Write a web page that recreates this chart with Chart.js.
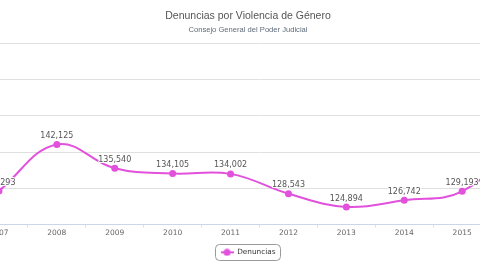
<!DOCTYPE html>
<html>
<head>
<meta charset="utf-8">
<script src="https://cdn.jsdelivr.net/npm/chart.js@4/dist/chart.umd.min.js"></script>
<style>
html, body { margin: 0; padding: 0; background: #fff; overflow: hidden; width: 480px; height: 270px; }
#wrap { position: absolute; left: -100px; top: 0; width: 696px; height: 270px; }
</style>
</head>
<body>
<div id="wrap"><canvas id="chart"></canvas></div>
<script>
// Datos (CGPJ)
const years = ['2007', '2008', '2009', '2010', '2011', '2012', '2013', '2014', '2015', '2016'];
const denuncias = [129293, 142125, 135540, 134105, 134002, 128543, 124894, 126742, 129193, 142893];
const yMin = 120000;
const yMax = 170000;
const yStep = 10000;

const lineColor = '#e251dc';

// simbolo de la leyenda: linea con punto
const legendIcon = document.createElement('canvas');
legendIcon.width = 13;
legendIcon.height = 8;
(function () {
  const c = legendIcon.getContext('2d');
  c.strokeStyle = lineColor;
  c.lineWidth = 2;
  c.beginPath();
  c.moveTo(0, 4);
  c.lineTo(13, 4);
  c.stroke();
  c.fillStyle = lineColor;
  c.beginPath();
  c.arc(6.5, 4, 3.5, 0, Math.PI * 2);
  c.fill();
})();

// etiquetas encima de cada punto
const pointLabels = {
  id: 'pointLabels',
  afterDatasetsDraw(chart) {
    const ctx = chart.ctx;
    const meta = chart.getDatasetMeta(0);
    ctx.save();
    ctx.font = '8px "DejaVu Sans"';
    ctx.textAlign = 'center';
    ctx.textBaseline = 'middle';
    ctx.lineJoin = 'round';
    meta.data.forEach((pt, i) => {
      const txt = denuncias[i].toLocaleString('en-US');
      ctx.lineWidth = 2;
      ctx.strokeStyle = '#fff';
      ctx.strokeText(txt, pt.x, pt.y - 8.5);
      ctx.fillStyle = '#555';
      ctx.fillText(txt, pt.x, pt.y - 8.5);
    });
    ctx.restore();
  }
};

// marco de la leyenda
const legendFrame = {
  id: 'legendFrame',
  afterDraw(chart) {
    const hit = chart.legend.legendHitBoxes[0];
    if (!hit) return;
    const ctx = chart.ctx;
    ctx.save();
    ctx.strokeStyle = '#999';
    ctx.lineWidth = 1;
    ctx.beginPath();
    ctx.roundRect(Math.round(hit.left - 6) + 0.5, Math.round(hit.top - 5) + 0.5, Math.round(hit.width + 10), Math.round(hit.height + 9), 4);
    ctx.stroke();
    ctx.restore();
  }
};

new Chart(document.getElementById('chart'), {
  type: 'line',
  data: {
    labels: years,
    datasets: [{
      label: 'Denuncias',
      data: denuncias,
      borderColor: lineColor,
      backgroundColor: lineColor,
      borderWidth: 2,
      tension: 0.4,
      pointRadius: 3.5,
      pointBorderWidth: 0,
      pointBackgroundColor: lineColor,
      pointStyle: 'circle'
    }]
  },
  options: {
    responsive: true,
    maintainAspectRatio: false,
    animation: false,
    layout: { padding: { top: 0, bottom: 4, left: 0, right: 0 } },
    plugins: {
      title: {
        display: true,
        text: 'Denuncias por Violencia de Género',
        color: '#555',
        font: { family: '"Liberation Sans"', size: 10.5, weight: 'normal' },
        padding: { top: 9.7, bottom: 0 }
      },
      subtitle: {
        display: true,
        text: 'Consejo General del Poder Judicial',
        color: '#5f6b7a',
        font: { family: '"Liberation Sans"', size: 7.6 },
        padding: { top: 3, bottom: 8.8 }
      },
      legend: {
        position: 'bottom',
        labels: {
          usePointStyle: true,
          pointStyleWidth: 13,
          generateLabels(chart) {
            return [{
              text: 'Denuncias',
              pointStyle: legendIcon,
              fillStyle: lineColor,
              strokeStyle: lineColor,
              lineWidth: 0,
              fontColor: '#333',
              datasetIndex: 0,
              hidden: false
            }];
          },
          color: '#333',
          font: { family: '"DejaVu Sans"', size: 7.3 },
          padding: 10
        }
      },
      tooltip: { enabled: false }
    },
    scales: {
      x: {
        offset: true,
        grid: { offset: true, drawOnChartArea: false, drawTicks: true, tickLength: 3, color: '#dde3ee' },
        border: { display: true, color: '#ccd6eb' },
        ticks: { color: '#666', font: { family: '"DejaVu Sans"', size: 7.5 }, padding: 1, maxRotation: 0, autoSkip: false }
      },
      y: {
        min: yMin,
        max: yMax,
        ticks: { display: false, stepSize: yStep },
        grid: { color: '#e0e0e0', drawTicks: false },
        border: { display: false },
        afterFit(scale) { scale.width = 70; }
      },
      y2: {
        type: 'linear',
        position: 'right',
        ticks: { display: false },
        grid: { display: false },
        border: { display: false },
        afterFit(scale) { scale.width = 47; }
      }
    }
  },
  plugins: [pointLabels, legendFrame]
});
</script>
</body>
</html>
